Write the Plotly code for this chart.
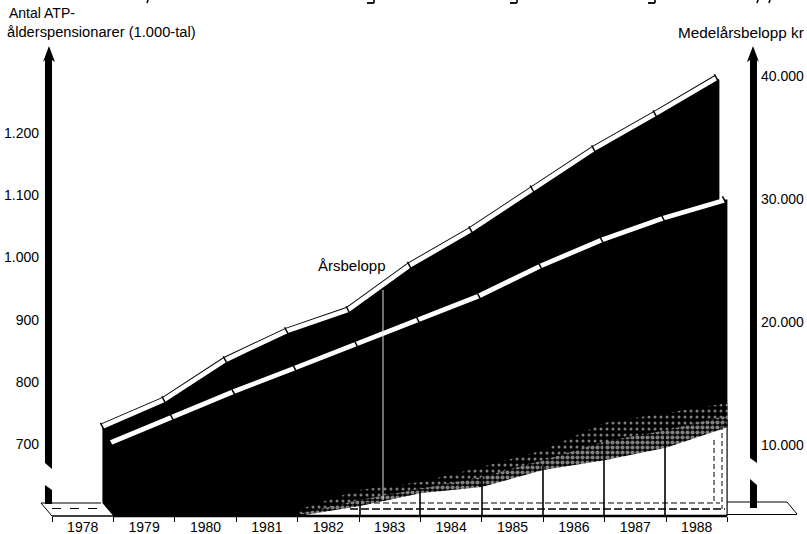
import plotly.graph_objects as go

W, H = 807, 534
L, R, T, B = 40, 47, 0, 18  # plot margins

years = list(range(1978, 1989))
# Right axis (kr): mean annual amount
arsbelopp = [11500, 13660, 16910, 19270, 20980, 24590, 27480, 30810, 34070, 36910, 39840]
# Left axis (thousands): number of ATP old-age pensioners
antal = [702, 743, 784, 822, 861, 901, 938, 986, 1028, 1063, 1092]
y_left_ticks = [700, 800, 900, 1000, 1100, 1200]
y_left_labels = ["700", "800", "900", "1.000", "1.100", "1.200"]
y_right_ticks = [10000, 20000, 30000, 40000]
y_right_labels = ["10.000", "20.000", "30.000", "40.000"]

# Stipple zone (left-axis units) at each year boundary 1982..1989
edge_t = [1982, 1983, 1984, 1985, 1986, 1987, 1988, 1989]
edge_sparse = [594, 626, 639, 663, 690, 734, 750, 766]
edge_mid = [587, 610, 628, 647, 674, 704, 722, 746]
edge_solid = [584, 600, 621, 631, 658, 674, 694, 727]

px_per_year = 61.4
x_min = 1978 + (L - 52) / px_per_year
x_max = 1978 + (W - R - 52) / px_per_year
yl_min = 700 + (444 - (H - B)) / 0.622
yl_max = 700 + (444 - T) / 0.622
yr_min = 10000 + (445 - (H - B)) / 0.0123
yr_max = 10000 + (445 - T) / 0.0123

DEPTH_BACK = -11 / px_per_year   # upper band sits further back in the drawing
DEPTH_FRONT = -3 / px_per_year
upper_x = [y + 1 + DEPTH_BACK for y in years]
lower_x = [y + 1 + DEPTH_FRONT for y in years]


def r_to_l(v):
    return yl_min + (v - yr_min) * (yl_max - yl_min) / (yr_max - yr_min)


fig = go.Figure()

# Black mass: upper edge follows the upper band, right side steps out at the lower band
ul = [r_to_l(v) for v in arsbelopp]
corner_x = upper_x[-1] + 3 / px_per_year
area_x = [upper_x[0]] + upper_x + [corner_x, corner_x, 1989, 1989, 1979]
area_y = [605] + ul + [ul[-1] - 3, antal[-1] + 1, antal[-1] + 1, yl_min, yl_min]
fig.add_trace(go.Scatter(x=area_x, y=area_y, mode="none", fill="toself", fillcolor="black",
                         hoverinfo="skip", showlegend=False))

# Stipple: denser pattern layers toward the solid white floor
for edge, solidity, size in [(edge_sparse, 0.2, 6), (edge_mid, 0.55, 5)]:
    fig.add_trace(go.Scatter(x=edge_t, y=edge, mode="none", fill="tozeroy", fillcolor="black",
                             fillpattern=dict(shape=".", fgcolor="white", bgcolor="black",
                                              size=size, solidity=solidity),
                             hoverinfo="skip", showlegend=False))
fig.add_trace(go.Scatter(x=edge_t, y=edge_solid, mode="none", fill="tozeroy", fillcolor="white",
                         hoverinfo="skip", showlegend=False))

gap = dict(symbol="line-ns", size=6, angle=-28, color="black", line=dict(color="black", width=1.5))
# Upper band on the right axis
fig.add_trace(go.Scatter(x=upper_x, y=arsbelopp, yaxis="y2", mode="lines",
                         line=dict(color="black", width=6.6), hoverinfo="skip", showlegend=False))
fig.add_trace(go.Scatter(x=upper_x, y=arsbelopp, yaxis="y2", mode="lines+markers",
                         line=dict(color="white", width=4.8), marker=gap,
                         hoverinfo="skip", showlegend=False, name="Årsbelopp"))
# Lower band on the left axis
fig.add_trace(go.Scatter(x=lower_x, y=antal, mode="lines+markers",
                         line=dict(color="white", width=4.8), marker=gap,
                         hoverinfo="skip", showlegend=False, name="Antal"))


def paper_x(x):
    return (x - L) / (W - L - R)


def paper_y(y):
    return 1 - (y - T) / (H - T - B)


def path(points):
    return "M " + " L ".join(f"{paper_x(a):.4f},{paper_y(b):.4f}" for a, b in points) + " Z"


def poly(points, fill="black", line_w=0):
    return dict(type="path", xref="paper", yref="paper", path=path(points),
                fillcolor=fill, line=dict(color="black", width=line_w), layer="above")


def seg(x0, y0, x1, y1, w=1.0, color="black", dash="solid"):
    return dict(type="line", xref="paper", yref="paper", x0=paper_x(x0), y0=paper_y(y0),
                x1=paper_x(x1), y1=paper_y(y1), line=dict(color=color, width=w, dash=dash), layer="above")


shapes = [
    # left axis arrow with break
    poly([(49, 46), (55, 62), (52, 60), (52, 469), (45, 463), (45, 60), (43, 62)]),
    poly([(45, 485), (52, 490), (52, 504), (45, 504)]),
    # right axis arrow with break
    poly([(753, 46), (759, 62), (757, 60), (757, 463), (750, 458), (750, 60), (747, 62)]),
    poly([(750, 479), (757, 485), (757, 508), (750, 508)]),
    # floor, left
    seg(41, 503, 101, 503), seg(41, 503, 52, 516), seg(52, 508.5, 101, 508.5, dash="dash"),
    # floor, right
    seg(727, 502, 787, 502), seg(787, 502, 797, 514), seg(727, 514.5, 797, 514.5),
    # dashed floor inside stipple
    seg(365, 503, 720, 503, 1, dash="6px,3px"),
    seg(350, 509, 725, 509, 1.6, dash="8px,3px"),
    seg(714, 440, 714, 503, 1, dash="5px,3px"),
    seg(722, 425, 722, 509, 1, dash="5px,3px"),
    # baseline
    seg(113, 516, 727, 516, 2.4), seg(52, 516, 113, 516, 1.4),
    # guide inside the black mass
    seg(383, 290, 383, 500, 1, color="#dddddd"),
    # right edge of the white floor
    seg(727, 420, 727, 516, 1),
]
# Year-boundary posts
for bx, top in zip([360, 420, 482, 543, 604, 665], [502, 490, 477, 466, 440, 435]):
    shapes.append(seg(bx, top, bx, 516, 1.6))
# Descenders of the heading that the crop of the page cut off
for a, b in [(148, 3), (758, 3), (770, 3)]:
    shapes.append(seg(a, 0, a - 1, b, 1.6))
for a in [370, 513, 651]:
    shapes.append(seg(a - 3, 3, a + 4, 3, 1.8))
    shapes.append(seg(a + 4, 0, a + 4, 3, 1.6))

fig.update_layout(
    width=W, height=H, margin=dict(l=L, r=R, t=T, b=B),
    paper_bgcolor="white", plot_bgcolor="white", autosize=False,
    font=dict(family="Liberation Sans", size=14, color="black"),
    shapes=shapes, showlegend=False,
    xaxis=dict(range=[x_min, x_max], showgrid=False, zeroline=False, showline=False,
               tickmode="array", tickvals=[y + 0.5 for y in years], ticktext=[str(y) for y in years],
               ticks="", tickfont=dict(size=14), ticklabelstandoff=1,
               minor=dict(tickmode="array", tickvals=years + [1989],
                          ticks="outside", ticklen=5, tickcolor="black", tickwidth=1)),
    yaxis=dict(range=[yl_min, yl_max], showgrid=False, zeroline=False, showline=False,
               tickmode="array", tickvals=y_left_ticks, ticktext=y_left_labels, ticks="",
               tickfont=dict(size=14)),
    yaxis2=dict(range=[yr_min, yr_max], overlaying="y", side="right", showgrid=False,
                zeroline=False, showline=False, tickmode="array", tickvals=y_right_ticks,
                ticktext=y_right_labels, ticks="", tickfont=dict(size=14)),
    annotations=[
        dict(text="Antal ATP-", xref="paper", yref="paper", x=paper_x(7), y=paper_y(13),
             xanchor="left", yanchor="middle", showarrow=False, font=dict(size=14)),
        dict(text="ålderspensionarer (1.000-tal)", xref="paper", yref="paper", x=paper_x(5), y=paper_y(32),
             xanchor="left", yanchor="middle", showarrow=False, font=dict(size=14.7)),
        dict(text="Medelårsbelopp kr", xref="paper", yref="paper", x=paper_x(806), y=paper_y(32),
             xanchor="right", yanchor="middle", showarrow=False, font=dict(size=15.3)),
        dict(text="Årsbelopp", xref="paper", yref="paper", x=paper_x(352), y=paper_y(265),
             xanchor="center", yanchor="middle", showarrow=False, font=dict(size=15)),
    ],
)

fig.write_html("out.html", config=dict(displayModeBar=False),
               post_script="document.body.style.margin='0';")
